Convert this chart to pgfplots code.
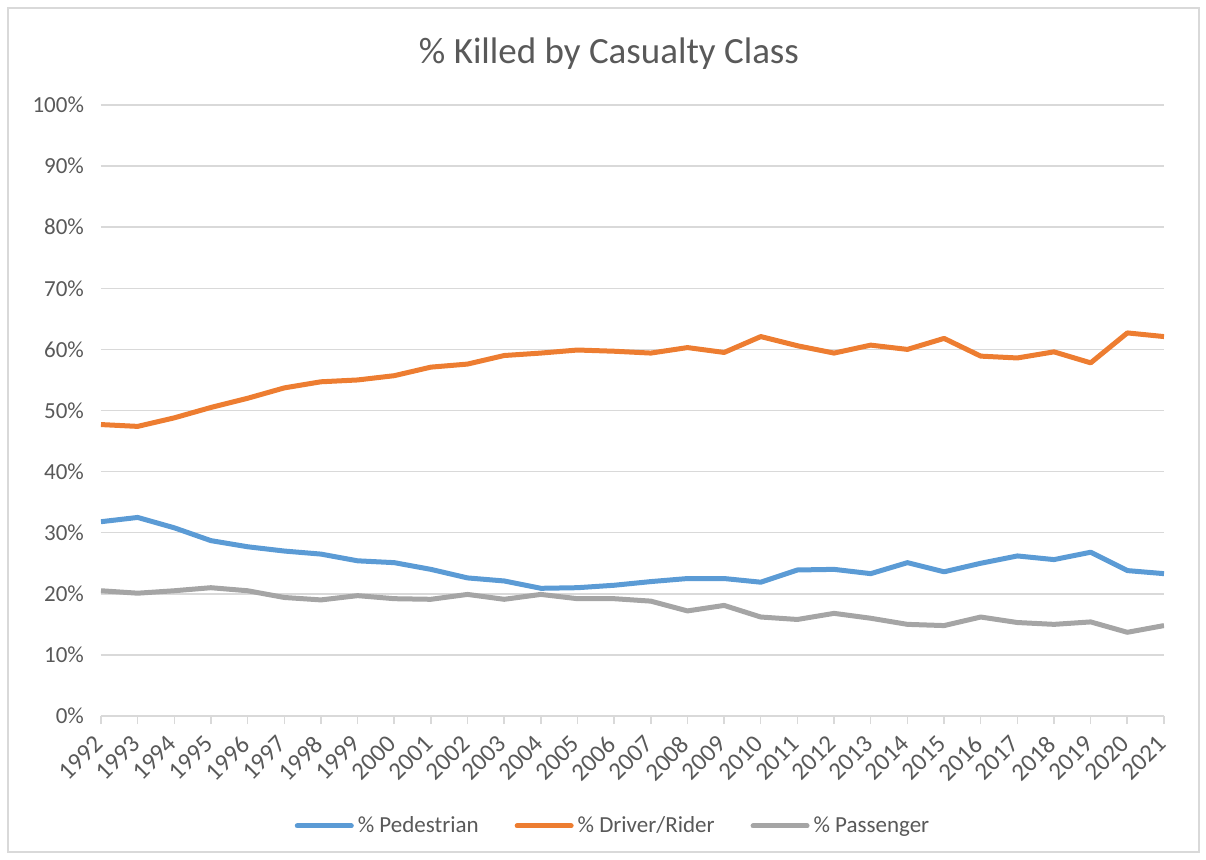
\documentclass[border=0pt]{standalone}
\usepackage{fontspec}
\setmainfont{Carlito}
\usepackage{graphicx}
\usepackage{pgfplots}
\pgfplotsset{compat=1.18}
\definecolor{cblue}{HTML}{5B9BD5}
\definecolor{corange}{HTML}{ED7D31}
\definecolor{cgray}{HTML}{A5A5A5}
\definecolor{cgrid}{HTML}{D9D9D9}
\definecolor{ctext}{HTML}{595959}
\begin{document}
\begin{tikzpicture}
\path[use as bounding box] (-50.5pt,-71.5pt) rectangle (552.5pt,358pt);
\draw[cgrid, line width=0.6pt] (-46.5pt,-68pt) rectangle (549pt,354pt);
\node[text=ctext, font=\fontsize{18.5}{22}\selectfont] at (254pt,331pt) {\% Killed by Casualty Class};
\begin{axis}[
  at={(0pt,0pt)}, anchor=origin,
  scale only axis, width=531.5pt, height=305.5pt,
  xmin=1992, xmax=2021, ymin=0, ymax=100,
  xtick={1992,...,2021},
  ytick={0,10,...,100},
  yticklabel={\pgfmathprintnumber{\tick}\%},
  xticklabel={\rotatebox{45}{\pgfmathprintnumber[1000 sep={}]{\tick}}},
  /pgf/number format/assume math mode=true,
  xticklabel shift=5pt,
  xticklabel style={anchor=north east, font=\fontsize{12.5}{14}\selectfont, text=ctext, inner sep=0pt, xshift=2pt},
  yticklabel style={font=\fontsize{11.5}{13}\selectfont, text=ctext, xshift=-5pt},
  ymajorgrids, grid style={cgrid, line width=0.75pt},
  axis x line*=bottom, axis y line*=left,
  x axis line style={draw=cgrid, line width=0.75pt},
  y axis line style={draw=none},
  xtick style={draw=cgrid, line width=0.75pt},
  major tick length=4pt,
  xtick align=outside,
  ytick style={draw=none},
  legend style={at={(0.4826,-0.18)}, anchor=center, legend columns=3, draw=none, font=\fontsize{11.5}{13}\selectfont, text=ctext, /tikz/every even column/.append style={column sep=16pt}},
  legend image code/.code={\draw[#1, line width=2.5pt, line cap=round] (0pt,0pt) -- (27pt,0pt);},
  every axis plot/.append style={line width=2.5pt, line join=round, no markers},
]
\addplot[cblue] coordinates {
(1992,31.8)(1993,32.5)(1994,30.8)(1995,28.7)(1996,27.7)(1997,27.0)(1998,26.5)(1999,25.4)(2000,25.1)(2001,24.0)
(2002,22.6)(2003,22.1)(2004,20.9)(2005,21.0)(2006,21.4)(2007,22.0)(2008,22.5)(2009,22.5)(2010,21.9)(2011,23.9)
(2012,24.0)(2013,23.3)(2014,25.1)(2015,23.6)(2016,25.0)(2017,26.2)(2018,25.6)(2019,26.8)(2020,23.8)(2021,23.3)};
\addlegendentry{\% Pedestrian}
\addplot[corange] coordinates {
(1992,47.7)(1993,47.4)(1994,48.8)(1995,50.5)(1996,52.0)(1997,53.7)(1998,54.7)(1999,55.0)(2000,55.7)(2001,57.1)
(2002,57.6)(2003,59.0)(2004,59.4)(2005,59.9)(2006,59.7)(2007,59.4)(2008,60.3)(2009,59.5)(2010,62.1)(2011,60.6)
(2012,59.4)(2013,60.7)(2014,60.0)(2015,61.8)(2016,58.9)(2017,58.6)(2018,59.6)(2019,57.8)(2020,62.7)(2021,62.1)};
\addlegendentry{\% Driver/Rider}
\addplot[cgray] coordinates {
(1992,20.5)(1993,20.1)(1994,20.5)(1995,21.0)(1996,20.5)(1997,19.4)(1998,19.0)(1999,19.7)(2000,19.2)(2001,19.1)
(2002,19.9)(2003,19.1)(2004,19.9)(2005,19.2)(2006,19.2)(2007,18.8)(2008,17.2)(2009,18.1)(2010,16.2)(2011,15.8)
(2012,16.8)(2013,16.0)(2014,15.0)(2015,14.8)(2016,16.2)(2017,15.3)(2018,15.0)(2019,15.4)(2020,13.7)(2021,14.8)};
\addlegendentry{\% Passenger}
\end{axis}
\end{tikzpicture}
\end{document}
